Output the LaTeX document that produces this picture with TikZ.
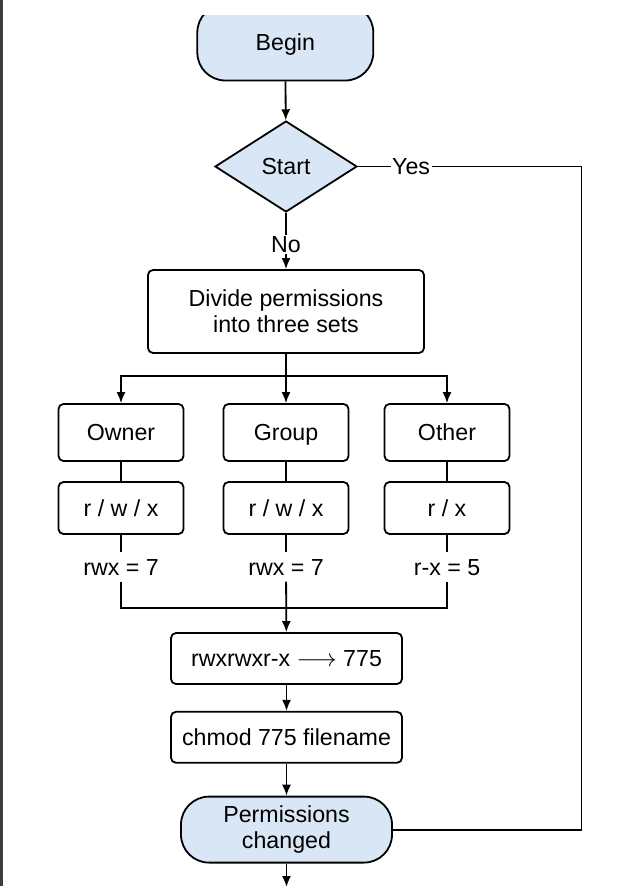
\documentclass[tikz,border=0pt]{standalone}
\usepackage{fontspec}
\setmainfont{Liberation Sans}
\usetikzlibrary{
    positioning,
    shapes.geometric,
    arrows.meta
    }
\definecolor{termblue}{RGB}{216,230,245}
\definecolor{edgebar}{RGB}{60,60,60}

\begin{document}
\begin{tikzpicture}[x=1pt, y=-1pt, font=\fontsize{23.2}{26}\selectfont]
\tikzset{edge/.style =
        {
            line width=1.8pt,
            draw=black
        }
}

\tikzset{flow/.style =
        {
            edge,
            -{Latex[length=11pt, width=9pt]}
        }
}

\tikzset{terminal/.style =
        {
            rectangle,
            rounded corners=28pt,
            line width=1.8pt,
            fill=termblue,
            inner sep=0pt,
            align=center,
            draw
        }
}

\tikzset{decision/.style =
        {
            shape=diamond,
            line width=1.8pt,
            fill=termblue,
            minimum width=142pt,
            minimum height=91pt,
            inner sep=0pt,
            draw
        }
}

\tikzset{process/.style =
        {
            rectangle,
            rounded corners=5pt,
            line width=1.8pt,
            fill=white,
            inner sep=0pt,
            align=center,
            draw
        }
}

\tikzset{oneline/.style = { text height=16.5pt, text depth=0pt } }

\tikzset{value/.style = { oneline, inner sep=0pt, minimum height=29pt } }

\tikzset{branch/.style = { fill=white, inner sep=1.5pt } }

		\useasboundingbox (0,0) rectangle (644,886);
		\fill[edgebar] (0,0) rectangle (3,886);

		\begin{scope}
			\clip (0,15) rectangle (644,886);
			\node[terminal, oneline, minimum width=176pt, minimum height=76pt] (begin) at (285.3,42.5) {Begin};
		\end{scope}

		\node[decision] (start) at (286,166.5) {Start};
		\node[process, minimum width=276pt, minimum height=83pt] (divide) at (286,311.5) {Divide permissions\\into three sets};

		\coordinate (split) at (286,376);
		\coordinate (join) at (286,608);
		\coordinate (rail) at (581.5,166.5);

		\foreach \name / \x / \class / \bits / \value in
			{owner/121/Owner/{r / w / x}/{rwx = 7},
				group/286/Group/{r / w / x}/{rwx = 7},
				other/447/Other/{r / x}/{r-x = 5}}
			{
				\node[process, oneline, minimum width=125pt, minimum height=57pt] (class-\name) at (\x,432.5) {\class};
				\node[process, oneline, minimum width=125pt, minimum height=52pt] (bits-\name) at (\x,508) {\bits};
				\node[value] (value-\name) at (\x,567) {\value};
				\draw [flow] (split) -| (class-\name);
				\draw [edge] (class-\name) -- (bits-\name);
				\draw [edge] (bits-\name) -- (value-\name);
			}

		\node[process, oneline, minimum width=231pt, minimum height=51pt] (map) at (286.5,658.5) {rwxrwxr-x \(\longrightarrow\) 775};
		\node[process, oneline, minimum width=231pt, minimum height=51pt, below=26pt of map] (chmod) {chmod 775 filename};
		\node[terminal, minimum width=211pt, minimum height=66pt, below=32pt of chmod] (done) {Permissions\\changed};
		\coordinate (exit) at (286.5,887);

		\draw [flow] (begin) -- (start);
		\draw [flow] (start) -- node[branch, pos=0.56] {No} (divide);
		\draw [edge] (divide) -- (split);
		\draw [edge] (value-owner) |- (join) -| (value-other);
		\draw [flow] (value-group) -- (map);
		\draw [flow] (map) -- (chmod);
		\draw [flow] (chmod) -- (done);
		\draw [flow] (done) -- (exit);
		\draw [edge] (start) -- node[branch, pos=0.238] {Yes} (rail) |- (done);

	\end{tikzpicture}
\end{document}
